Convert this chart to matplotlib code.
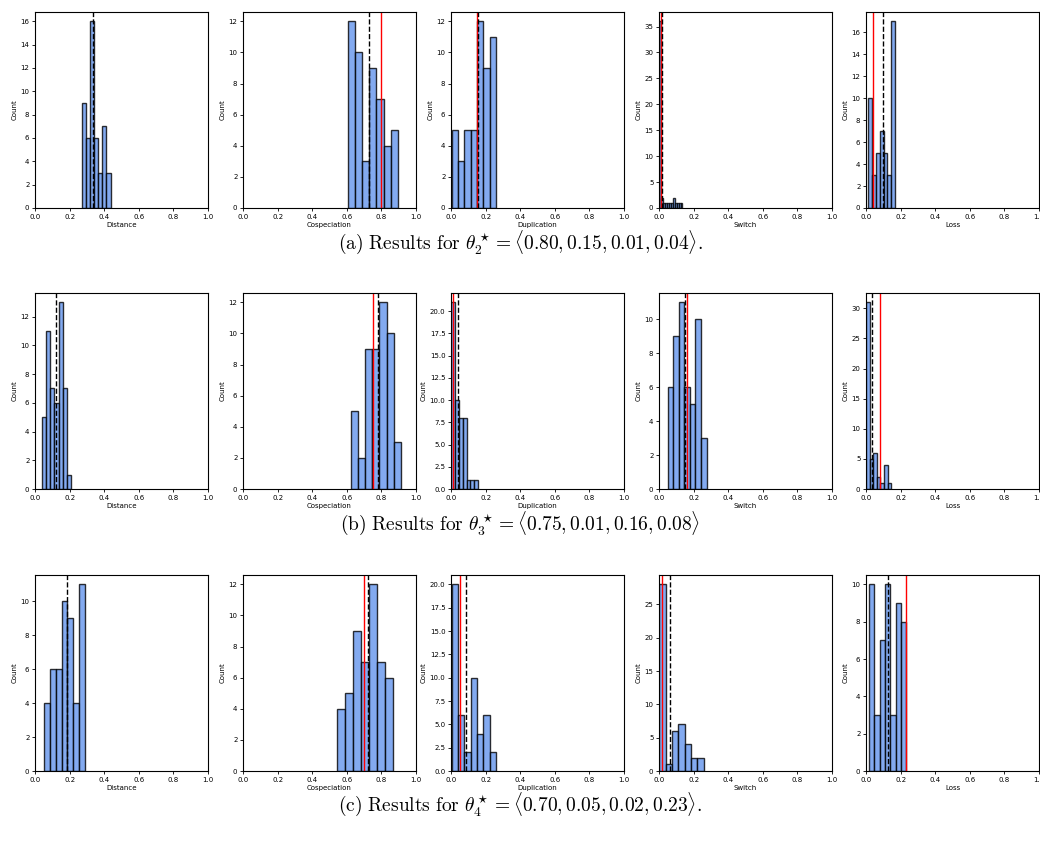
#!/usr/bin/env python3

import numpy as np
import matplotlib
matplotlib.use("Agg")
import matplotlib.pyplot as plt

plt.rcParams["mathtext.fontset"] = "cm"

PARAMS = ["Distance", "Cospeciation", "Duplication", "Switch", "Loss"]

CAPTIONS = [
    r"$\mathrm{(a)\ Results\ for}\ \theta_2^\star = \langle 0.80, 0.15, 0.01, 0.04\rangle.$",
    r"$\mathrm{(b)\ Results\ for}\ \theta_3^\star = \langle 0.75, 0.01, 0.16, 0.08\rangle$",
    r"$\mathrm{(c)\ Results\ for}\ \theta_4^\star = \langle 0.70, 0.05, 0.02, 0.23\rangle.$",
]

# histogram bins: left edge of first bin, bin width, counts per bin
# row (a)
a_lo = [0.269, 0.608, 0.004, 0.0, 0.0115]
a_w = [0.024, 0.0409, 0.0366, 0.0113, 0.0225]
a_counts = [
    [9, 6, 16, 6, 3, 7, 3],
    [12, 10, 3, 9, 7, 4, 5],
    [5, 3, 5, 5, 12, 9, 11],
    [36, 2, 1, 1, 1, 1, 1, 2, 1, 1, 1, 1],
    [10, 3, 5, 7, 5, 3, 17],
]
a_mean = [0.338, 0.728, 0.156, 0.015, 0.098]
a_true = [None, 0.80, 0.15, 0.01, 0.04]

# row (b)
b_lo = [0.038, 0.622, 0.0, 0.05, 0.0]
b_w = [0.0247, 0.0416, 0.0224, 0.0321, 0.0209]
b_counts = [
    [5, 11, 7, 6, 13, 7, 1],
    [5, 2, 9, 9, 12, 10, 3],
    [21, 10, 8, 8, 1, 1, 1],
    [6, 9, 11, 6, 5, 10, 3],
    [31, 5, 6, 2, 1, 4, 1],
]
b_mean = [0.119, 0.778, 0.042, 0.152, 0.033]
b_true = [None, 0.75, 0.01, 0.16, 0.08]

# row (c)
c_lo = [0.054, 0.544, 0.004, 0.002, 0.017]
c_w = [0.0334, 0.0464, 0.0366, 0.0365, 0.0308]
c_counts = [
    [4, 6, 6, 10, 9, 4, 11],
    [4, 5, 9, 7, 12, 7, 6],
    [20, 6, 2, 10, 4, 6, 2],
    [28, 1, 6, 7, 4, 2, 2],
    [10, 3, 7, 10, 3, 9, 8],
]
c_mean = [0.183, 0.72, 0.089, 0.066, 0.13]
c_true = [None, 0.70, 0.05, 0.02, 0.23]

ROWS = [
    (a_lo, a_w, a_counts, a_mean, a_true),
    (b_lo, b_w, b_counts, b_mean, b_true),
    (c_lo, c_w, c_counts, c_mean, c_true),
]

W, H = 1040, 847
COL_LEFT = [35, 243, 451, 659, 866]
ROW_TOP = [12, 293, 575]
AX_W, AX_H = 173, 196
CAP_BASE = [249, 530, 811]


def main():
    fig = plt.figure(figsize=(W / 100, H / 100), dpi=100)

    for r, (lo, w, counts, means, trues) in enumerate(ROWS):
        for c, name in enumerate(PARAMS):
            ax = fig.add_axes([COL_LEFT[c] / W, 1 - (ROW_TOP[r] + AX_H) / H, AX_W / W, AX_H / H])
            n = counts[c]
            edges = lo[c] + w[c] * np.arange(len(n) + 1)
            ax.hist(edges[:-1] + w[c] / 2, bins=edges, weights=n,
                    color="cornflowerblue", alpha=0.8, edgecolor="black", linewidth=1)
            if trues[c] is not None:
                ax.axvline(trues[c], color="red", linewidth=1)
            ax.axvline(means[c], color="black", linestyle="--", linewidth=1)
            ax.set_xlim(0, 1)
            ax.set_xticks(np.linspace(0, 1, 6))
            ax.tick_params(labelsize=5, length=2.5, width=0.6, pad=1.5)
            ax.set_xlabel(name, fontsize=5, labelpad=1.5)
            ax.set_ylabel("Count", fontsize=5, labelpad=2)

        fig.text(0.5, 1 - CAP_BASE[r] / H, CAPTIONS[r], ha="center", va="baseline", fontsize=14)

    fig.savefig("out.png", dpi=100)


if __name__ == "__main__":
    main()
